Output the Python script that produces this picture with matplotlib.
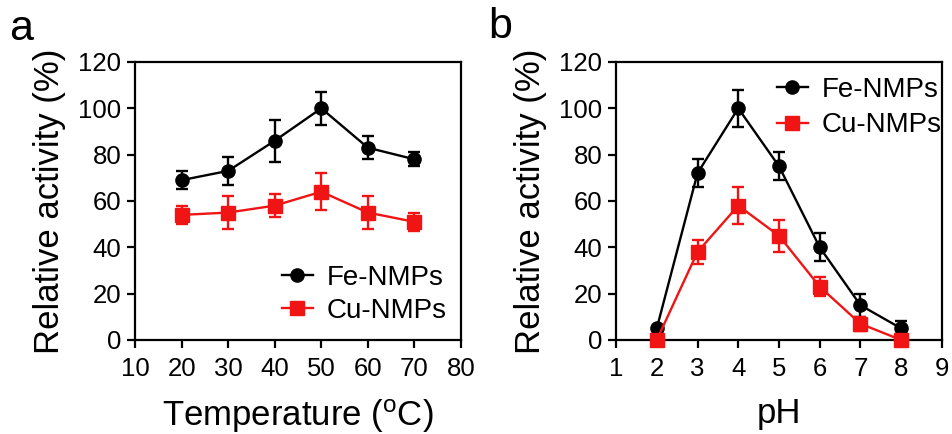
import matplotlib.pyplot as plt

plt.rcParams['font.family'] = ['Liberation Sans', 'DejaVu Sans']

# Panel a: temperature
temp = [20, 30, 40, 50, 60, 70]
fe_temp = [69, 73, 86, 100, 83, 78]
fe_temp_err = [4, 6, 9, 7, 5, 3]
cu_temp = [54, 55, 58, 64, 55, 51]
cu_temp_err = [4, 7, 5, 8, 7, 4]

# Panel b: pH
ph = [2, 3, 4, 5, 6, 7, 8]
fe_ph = [5, 72, 100, 75, 40, 15, 5]
fe_ph_err = [0, 6, 8, 6, 6, 5, 3]
cu_ph = [0, 38, 58, 45, 23, 7, 0]
cu_ph_err = [0, 5, 8, 7, 4, 3, 0]

RED = '#f01414'

fig = plt.figure(figsize=(9.53, 4.34), dpi=100)
ax1 = fig.add_axes([0.1417, 0.2166, 0.342, 0.6406])
ax2 = fig.add_axes([0.6464, 0.2166, 0.342, 0.6406])


def draw(ax, x, y, err, color, marker, label):
    ax.errorbar(x, y, yerr=err, fmt='none', ecolor=color, elinewidth=1.7,
                capsize=4.5, capthick=1.7)
    ax.plot(x, y, color=color, marker=marker, lw=1.7, ms=9.5, label=label,
            clip_on=False, zorder=3)


def style(ax):
    for s in ax.spines.values():
        s.set_linewidth(1.6)
    ax.tick_params(width=1.6, length=6, labelsize=18.5, direction='out', pad=4)
    ax.tick_params(axis='x', pad=6)
    ax.set_ylim(0, 120)
    ax.set_yticks(range(0, 121, 20))
    ax.set_ylabel('Relative activity (%)', fontsize=25, labelpad=9)


draw(ax1, temp, fe_temp, fe_temp_err, 'black', 'o', 'Fe-NMPs')
draw(ax1, temp, cu_temp, cu_temp_err, RED, 's', 'Cu-NMPs')
style(ax1)
ax1.set_xlim(10, 80)
ax1.set_xticks(range(10, 81, 10))
ax1.set_xlabel('Temperature ($\\mathregular{^{o}}$C)', fontsize=25, labelpad=12)
ax1.legend(loc='center left', bbox_to_anchor=(0.451, 0.165), frameon=False,
           fontsize=20, handlelength=1.1, handletextpad=0.5, labelspacing=0.25,
           borderpad=0, borderaxespad=0)

draw(ax2, ph, fe_ph, fe_ph_err, 'black', 'o', 'Fe-NMPs')
draw(ax2, ph, cu_ph, cu_ph_err, RED, 's', 'Cu-NMPs')
style(ax2)
ax2.set_xlim(1, 9)
ax2.set_xticks(range(1, 10))
ax2.set_xlabel('pH', fontsize=25, labelpad=12)
ax2.legend(loc='center left', bbox_to_anchor=(0.494, 0.836), frameon=False,
           fontsize=20, handlelength=1.1, handletextpad=0.5, labelspacing=0.35,
           borderpad=0, borderaxespad=0)

fig.text(0.01, 0.908, 'a', fontsize=31, va='baseline')
fig.text(0.512, 0.912, 'b', fontsize=31, va='baseline')

fig.savefig('out.png', dpi=100)
